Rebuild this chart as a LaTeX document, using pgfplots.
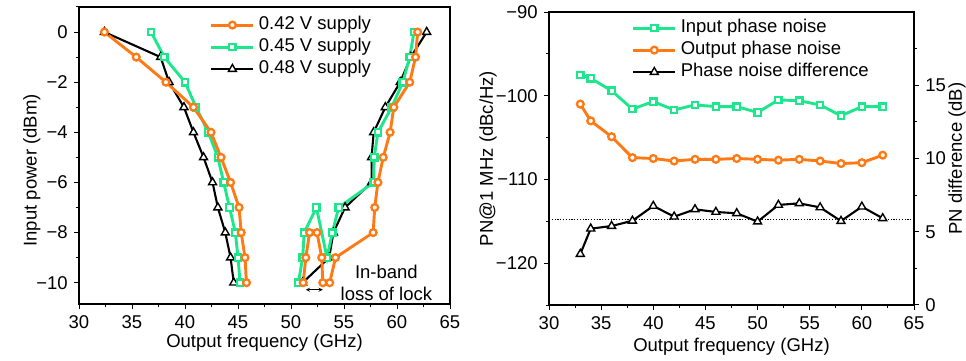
\documentclass[border=0pt]{standalone}
\usepackage{pgfplots}
\pgfplotsset{compat=1.18}
\usepackage{fontspec}
\setmainfont{Liberation Sans}
\definecolor{orng}{RGB}{255,122,20}
\definecolor{grn}{RGB}{30,230,140}
\pgfplotsset{
 osty/.style={color=orng, line width=2.9bp, mark=*, mark size=3.4bp, mark options={fill=white, line width=2.3bp, solid}},
 gsty/.style={color=grn, line width=2.9bp, mark=square*, mark size=3.2bp, mark options={fill=white, line width=2.3bp, solid}},
 ksty/.style={color=black, line width=2.1bp, mark=triangle*, mark size=4.6bp, mark options={fill=white, line width=1.4bp, solid}},
 base/.style={scale only axis, tick align=outside, major tick length=5bp, minor tick length=3bp,
   every tick/.style={black, line width=1bp}, axis line style={line width=1.4bp},
   /pgf/number format/assume math mode=true, legend cell align=left,
   legend image code/.code={\draw[mark repeat=2,mark phase=2,##1] plot coordinates {(0bp,0bp) (21bp,0bp) (42bp,0bp)};},
   legend style={draw=none, fill=none, inner sep=0pt, outer sep=0pt, row sep=5bp, column sep=4bp,
     nodes={inner sep=0pt, text height=13bp, text depth=4bp}},
 },
}
\begin{document}
\fontsize{18.5bp}{22bp}\selectfont
\begin{tikzpicture}
% ---------- (a) ----------
\begin{axis}[base, at={(79bp,57bp)}, anchor=south west, width=371bp, height=297bp,
 xmin=30, xmax=65, ymin=-10.85, ymax=1,
 xtick={30,35,...,65}, minor xtick={32.5,37.5,...,62.5},
 ytick={-10,-8,...,0}, yticklabels={−10,−8,−6,−4,−2,0}, minor ytick={-9,-7,...,1},
 xtick pos=bottom, ytick pos=left,
 xlabel={Output frequency (GHz)}, ylabel={Input power (dBm)},
 xlabel style={at={(axis description cs:0.5,-0.131)}, anchor=center},
 ylabel style={at={(axis description cs:-0.127,0.45)}, anchor=center},
 legend style={at={(0.353,0.865)}, anchor=west}]
\addplot[ksty, forget plot] coordinates {(32.4,0) (37.7,-1) (38.5,-2) (39.9,-3) (40.8,-4) (41.75,-5) (42.6,-6) (43.1,-7) (43.8,-8) (44.3,-9) (44.6,-10)};
\addplot[ksty, forget plot] coordinates {(51.1,-10) (53.6,-9) (54.0,-8) (55.1,-7) (57.6,-6) (57.6,-5) (57.8,-4) (58.9,-3) (60.3,-2) (61.3,-1) (62.8,0)};
\addplot[gsty, forget plot] coordinates {(36.8,0) (38.05,-1) (40.0,-2) (41.04,-3) (42.2,-4) (43.1,-5) (43.65,-6) (44.2,-7) (44.75,-8) (45.0,-9) (45.2,-10)};
\addplot[gsty, forget plot] coordinates {(50.7,-10) (51.1,-9) (51.25,-8) (52.4,-7) (53.4,-9) (53.9,-8) (54.5,-7) (57.8,-6) (57.85,-5) (58.2,-4) (59.5,-3) (60.55,-2) (61.2,-1) (61.6,0)};
\addplot[osty, forget plot] coordinates {(32.4,0) (35.4,-1) (38.2,-2) (40.8,-3) (42.45,-4) (43.4,-5) (44.3,-6) (45.1,-7) (45.3,-8) (45.66,-9) (45.8,-10)};
\addplot[osty, forget plot] coordinates {(51.15,-10) (51.4,-9) (51.75,-8) (52.45,-8) (52.9,-9) (53.0,-10) (53.65,-10) (54.2,-9) (57.75,-8) (57.9,-7) (58.2,-6) (58.7,-5) (59.35,-4) (59.7,-3) (61.2,-2) (61.75,-1) (61.95,0)};
\addlegendimage{osty}\addlegendentry{0.42 V supply}
\addlegendimage{gsty}\addlegendentry{0.45 V supply}
\addlegendimage{ksty}\addlegendentry{0.48 V supply}
\node at (axis cs:59.0,-9.55) {In-band};
\node at (axis cs:59.0,-10.43) {loss of lock};
\draw[<->, >=stealth, line width=0.9bp] (axis cs:51.4,-10.28) -- (axis cs:53.0,-10.28);
\node at (axis description cs:-0.159,0.953) {(a)};
\end{axis}
% ---------- (b) ----------
\begin{axis}[base, at={(549bp,56bp)}, anchor=south west, width=365bp, height=293bp,
 xmin=30, xmax=65, ymin=-125, ymax=-90,
 xtick={30,35,...,65}, minor xtick={32.5,37.5,...,62.5},
 ytick={-120,-110,-100,-90}, yticklabels={−120,−110,−100,−90}, minor ytick={-125,-115,-105,-95},
 xtick pos=bottom, ytick pos=left,
 xlabel={Output frequency (GHz)}, ylabel={PN@1 MHz (dBc/Hz)},
 xlabel style={at={(axis description cs:0.5,-0.143)}, anchor=center},
 ylabel style={at={(axis description cs:-0.167,0.5)}, anchor=center},
 legend style={at={(0.227,0.870)}, anchor=west}]
\addplot[gsty] coordinates {(33,-97.53) (34,-97.92) (36,-99.4) (38,-101.6) (40,-100.7) (42,-101.7) (44,-101.1) (46,-101.3) (48,-101.3) (50,-102.0) (52,-100.5) (54,-100.6) (56,-101.1) (58,-102.4) (60,-101.3) (62,-101.3)};
\addlegendentry{Input phase noise}
\addplot[osty] coordinates {(33,-101.0) (34,-103.0) (36,-104.9) (38,-107.4) (40,-107.5) (42,-107.8) (44,-107.6) (46,-107.6) (48,-107.5) (50,-107.6) (52,-107.7) (54,-107.6) (56,-107.8) (58,-108.1) (60,-108.0) (62,-107.1)};
\addlegendentry{Output phase noise}
\addlegendimage{ksty}\addlegendentry{Phase noise difference}
\node at (axis description cs:-0.1836,0.976) {(b)};
\end{axis}
\begin{axis}[base, at={(549bp,56bp)}, anchor=south west, width=365bp, height=293bp,
 xmin=30, xmax=65, ymin=0, ymax=20, axis x line=none, axis y line*=right,
 ytick={0,5,10,15}, minor ytick={2.5,7.5,12.5,17.5},
 ylabel={PN difference (dB)},
 ylabel style={at={(axis description cs:1.118,0.5)}, anchor=center}]
\addplot[black, line width=1bp, dash pattern=on 1.2bp off 1.6bp, forget plot] coordinates {(30,5.87) (65,5.87)};
\addplot[ksty] coordinates {(33,3.48) (34,5.21) (36,5.39) (38,5.75) (40,6.76) (42,6.03) (44,6.53) (46,6.35) (48,6.26) (50,5.69) (52,6.83) (54,6.94) (56,6.66) (58,5.73) (60,6.71) (62,5.92)};
\end{axis}
\pgfresetboundingbox
\path[use as bounding box] (0,0) rectangle (966bp,361bp);
\end{tikzpicture}
\end{document}
